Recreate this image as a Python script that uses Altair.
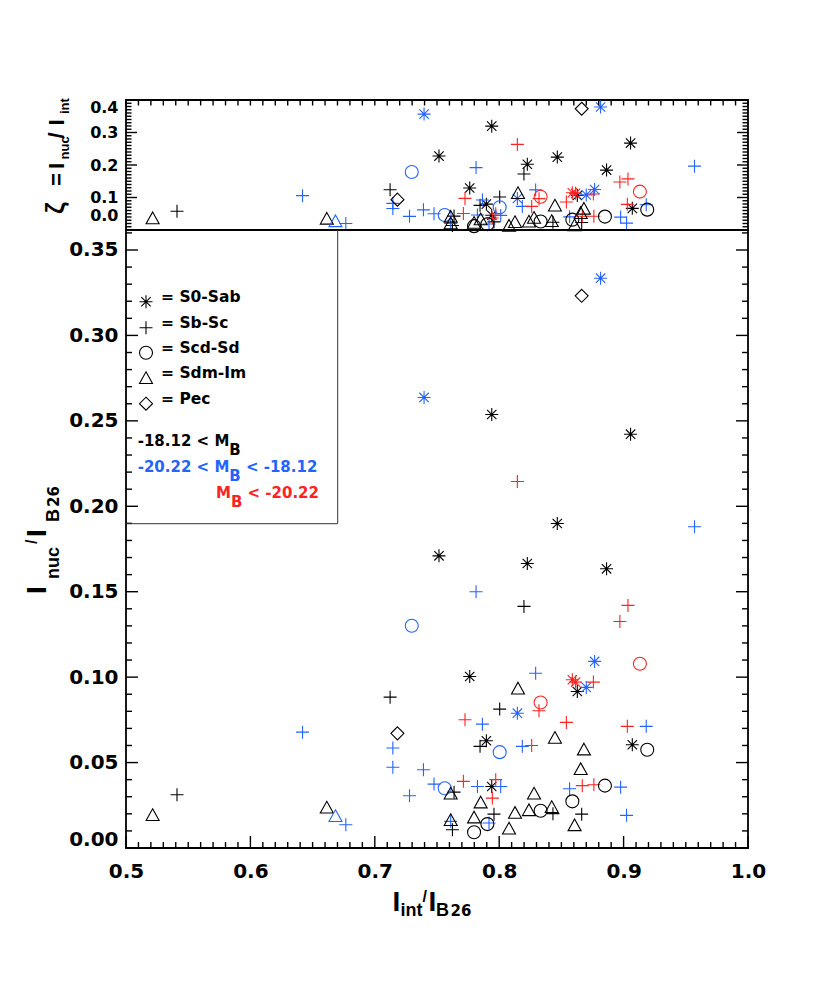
import altair as alt
import pandas as pd

# ---------------- data ----------------
# magnitude classes: faint = -18.12 < M_B, mid = -20.22 < M_B < -18.12, bright = M_B < -20.22
S0_Sab_x = [0.7940, 0.9056, 0.8467, 0.7516, 0.8226, 0.8863, 0.7763, 0.8628, 0.7897, 0.7940, 0.9070,
            0.8815, 0.7396, 0.8767, 0.8700, 0.8146,
            0.8588, 0.8614]
S0_Sab_y = [0.2537, 0.2422, 0.1899, 0.1710, 0.1665, 0.1634, 0.1004, 0.0916, 0.0628, 0.0360, 0.0604,
            0.3335, 0.2637, 0.1092, 0.0940, 0.0789,
            0.0985, 0.0971]
S0_Sab_m = ['faint'] * 11 + ['mid'] * 5 + ['bright'] * 2

Sb_Sc_x = [0.8199, 0.7123, 0.8004, 0.7846, 0.5410, 0.7637, 0.7958, 0.8432, 0.8663, 0.7624,
           0.9570, 0.7814, 0.8293, 0.7865, 0.8186, 0.6419, 0.7145, 0.7145, 0.7391, 0.7279,
           0.6767, 0.7476, 0.7825, 0.8012, 0.8566, 0.9182, 0.8976, 0.9024, 0.7610, 0.7918,
           0.8146, 0.9035, 0.8970, 0.8757, 0.8320, 0.7725, 0.8540, 0.8261, 0.9030, 0.7712,
           0.7972, 0.7945, 0.8668, 0.8761]
Sb_Sc_y = [0.1414, 0.0883, 0.0813, 0.0595, 0.0312, 0.0327, 0.0198, 0.0201, 0.0198, 0.0107,
           0.1880, 0.1500, 0.1023, 0.0725, 0.0595, 0.0678, 0.0585, 0.0473, 0.0458, 0.0306,
           0.0136, 0.0374, 0.0360, 0.0360, 0.0347, 0.0712, 0.0356, 0.0191, 0.0156, 0.0146,
           0.2145, 0.1420, 0.1326, 0.0971, 0.0803, 0.0751, 0.0735, 0.0600, 0.0712, 0.0390,
           0.0400, 0.0292, 0.0365, 0.0370]
Sb_Sc_m = ['faint'] * 10 + ['mid'] * 20 + ['bright'] * 14

Scd_Sd_x = [0.8850, 0.8588, 0.8333, 0.7905, 0.7798, 0.9190,
            0.7297, 0.8004, 0.7562,
            0.9131, 0.8333]
Scd_Sd_y = [0.0365, 0.0273, 0.0218, 0.0140, 0.0092, 0.0575,
            0.1301, 0.0561, 0.0350,
            0.1078, 0.0852]
Scd_Sd_m = ['faint'] * 6 + ['mid'] * 3 + ['bright'] * 2

Sdm_Im_x = [0.5214, 0.6614, 0.8151, 0.8448, 0.8681, 0.8655, 0.7610, 0.8280, 0.7851, 0.7798,
            0.7610, 0.8127, 0.8239, 0.8422, 0.8606, 0.8079,
            0.6684]
Sdm_Im_y = [0.0195, 0.0239, 0.0936, 0.0647, 0.0579, 0.0464, 0.0321, 0.0321, 0.0269, 0.0181,
            0.0166, 0.0208, 0.0224, 0.0242, 0.0136, 0.0116,
            0.0189]
Sdm_Im_m = ['faint'] * 16 + ['mid']

Pec_x = [0.8663, 0.7182]
Pec_y = [0.3232, 0.0671]
Pec_m = ['faint', 'faint']

TYPES = ['S0-Sab', 'Sb-Sc', 'Scd-Sd', 'Sdm-Im', 'Pec']
MAGS = ['faint', 'mid', 'bright']
COLORS = ['#000000', '#2563ff', '#ff2222']

rows = []
for t, xs, ys, ms in [('S0-Sab', S0_Sab_x, S0_Sab_y, S0_Sab_m),
                      ('Sb-Sc', Sb_Sc_x, Sb_Sc_y, Sb_Sc_m),
                      ('Scd-Sd', Scd_Sd_x, Scd_Sd_y, Scd_Sd_m),
                      ('Sdm-Im', Sdm_Im_x, Sdm_Im_y, Sdm_Im_m),
                      ('Pec', Pec_x, Pec_y, Pec_m)]:
    for x, y, m in zip(xs, ys, ms):
        rows.append({'x': x, 'y': y, 'type': t, 'mag': m})
df = pd.DataFrame(rows)

# ---------------- styling ----------------
AST = 'M-1,0L1,0M0,-1L0,1M-0.72,-0.72L0.72,0.72M-0.72,0.72L0.72,-0.72'
PLUS = 'M-1,0L1,0M0,-1L0,1'
TRI = 'M0,-0.9L1,0.9L-1,0.9Z'
DIAM = 'M0,-1L1,0L0,1L-1,0Z'
SHAPES = [AST, PLUS, 'circle', TRI, DIAM]

W, H_TOP, H_MAIN = 622, 130, 618
SYM = 169
LIB = 'Liberation Sans'
DJV = 'DejaVu Sans'

xscale = alt.Scale(domain=[0.5, 1.0], nice=False, zero=False)
ymain = alt.Scale(domain=[0, 0.3617], nice=False, zero=False)
ytop = alt.Scale(domain=[0, 0.4], nice=False, zero=False)

shape_enc = alt.Shape('type:N', scale=alt.Scale(domain=TYPES, range=SHAPES), legend=None)
color_enc = alt.Color('mag:N', scale=alt.Scale(domain=MAGS, range=COLORS), legend=None)

lab = dict(ticks=False, tickSize=0, domain=False, grid=False, labelFont=DJV,
           labelFontWeight='bold', labelColor='black', title=None,
           labelOverlap=False, labelFlush=False)

x_axis_main = alt.Axis(values=[0.5, 0.6, 0.7, 0.8, 0.9, 1.0], format='.1f',
                       labelPadding=13, labelFontSize=20, **lab)
y_axis_main = alt.Axis(values=[0.0, 0.05, 0.1, 0.15, 0.2, 0.25, 0.3, 0.35], format='.2f',
                       labelPadding=8, labelFontSize=20,
                       labelOffset={'condition': {'test': 'datum.value == 0', 'value': -9}, 'value': 0},
                       **lab)
y_axis_top = alt.Axis(values=[0.0, 0.1, 0.2, 0.3, 0.4], format='.1f',
                      labelPadding=8, labelFontSize=16,
                      labelOffset={'condition': [{'test': 'datum.value == 0', 'value': -15},
                                                 {'test': 'datum.value > 0.39', 'value': 7}],
                                   'value': 0},
                      **lab)

one = pd.DataFrame({'_': [0]})


def txt(s, x, y, size, font=LIB, color='black', angle=0, align='left'):
    return alt.Chart(one).mark_text(
        text=s, font=font, fontSize=size, fontWeight='bold', color=color,
        angle=angle, align=align, baseline='alphabetic'
    ).encode(x=alt.value(x), y=alt.value(y))


def yticks(vals, scale, axis, side, length):
    d = pd.DataFrame({'v': vals})
    x0, x1 = (0, length) if side == 'left' else (W, W - length)
    return alt.Chart(d).mark_rule(color='black', strokeWidth=1.4).encode(
        y=alt.Y('v:Q', scale=scale, axis=axis), x=alt.value(x0), x2=alt.value(x1))


def xticks(vals, axis, y0, length):
    d = pd.DataFrame({'v': vals})
    return alt.Chart(d).mark_rule(color='black', strokeWidth=1.4).encode(
        x=alt.X('v:Q', scale=xscale, axis=axis), y=alt.value(y0), y2=alt.value(y0 + length))


# tick positions
x_major = [0.5, 0.6, 0.7, 0.8, 0.9, 1.0]
x_minor = [round(0.5 + 0.01 * i, 2) for i in range(51) if i % 10]
x_all = [round(0.5 + 0.01 * i, 2) for i in range(51)]
ym_major = [0.0, 0.05, 0.1, 0.15, 0.2, 0.25, 0.3, 0.35]
ym_minor = [round(0.01 * i, 2) for i in range(37) if i % 5]
yt_major = [0.0, 0.1, 0.2, 0.3, 0.4]
yt_minor = [round(0.01 * i, 2) for i in range(41) if i % 10]

# ---------------- top panel ----------------
pts_top = alt.Chart(df).transform_calculate(zeta='datum.y / datum.x').mark_point(
    filled=False, size=SYM, strokeWidth=1.1, opacity=1
).encode(
    x=alt.X('x:Q', scale=xscale, axis=None),
    y=alt.Y('zeta:Q', scale=ytop, axis=y_axis_top),
    shape=shape_enc, color=color_enc,
)

top_layers = [
    pts_top,
    yticks(yt_major, ytop, y_axis_top, 'left', 11), yticks(yt_minor, ytop, y_axis_top, 'left', 5.5),
    yticks(yt_major, ytop, y_axis_top, 'right', 11), yticks(yt_minor, ytop, y_axis_top, 'right', 5.5),
    xticks(x_all, None, 0, 5.5),
    # y title: zeta = I_nuc / I_int (rotated)
    txt('ζ', -61.7, 114, 26, angle=270),
    txt('=', -61.7, 86, 22, angle=270),
    txt('I', -61.7, 69, 22, angle=270),
    txt('nuc', -57, 59.5, 13, angle=270),
    txt('/', -61.7, 38.5, 22, angle=270),
    txt('I', -61.7, 25.5, 22, angle=270),
    txt('int', -57, 14, 13, angle=270),
]
top = alt.layer(*top_layers).properties(width=W, height=H_TOP)

# ---------------- main panel ----------------
pts_main = alt.Chart(df).mark_point(
    filled=False, size=SYM, strokeWidth=1.1, opacity=1
).encode(
    x=alt.X('x:Q', scale=xscale, axis=x_axis_main),
    y=alt.Y('y:Q', scale=ymain, axis=y_axis_main),
    shape=shape_enc, color=color_enc,
)

box_right = alt.Chart(one).mark_rule(color='#333333', strokeWidth=1).encode(
    x=alt.value(211.7), y=alt.value(0), y2=alt.value(293.7))
box_bottom = alt.Chart(one).mark_rule(color='#333333', strokeWidth=1).encode(
    x=alt.value(0), x2=alt.value(211.7), y=alt.value(293.7))

legend_rows = [('= S0-Sab', AST, 71.7), ('= Sb-Sc', PLUS, 97.7), ('= Scd-Sd', 'circle', 122.7),
               ('= Sdm-Im', TRI, 147.7), ('= Pec', DIAM, 173.7)]
legend_layers = []
for label, shp, yy in legend_rows:
    legend_layers.append(
        alt.Chart(one).mark_point(filled=False, size=SYM, strokeWidth=1.1, color='black', opacity=1)
        .encode(x=alt.value(20), y=alt.value(yy), shape=alt.value(shp)))
    legend_layers.append(txt(label, 35, yy, 15.5, font=DJV))

BLUE, RED = COLORS[1], COLORS[2]
mag_layers = [
    txt('-18.12 < M', 11.7, 216, 15, font=DJV),
    txt('B', 103.3, 225, 15, font=DJV),
    txt('-20.22 < M', 11.7, 241.7, 15, font=DJV, color=BLUE),
    txt('B', 103.3, 251, 15, font=DJV, color=BLUE),
    txt('< -18.12', 119.9, 241.7, 15, font=DJV, color=BLUE),
    txt('M', 90, 267.7, 15, font=DJV, color=RED),
    txt('B', 104.9, 277, 15, font=DJV, color=RED),
    txt('< -20.22', 121.5, 267.7, 15, font=DJV, color=RED),
]

title_layers = [
    # x title: I_int / I_B26
    txt('I', 266.5, 680.7, 28),
    txt('int', 274.5, 685.7, 18),
    txt('/', 296.5, 672, 16),
    txt('I', 302.5, 680.7, 28),
    txt('B', 310, 685.7, 18),
    txt('26', 324.5, 685.7, 15, font=DJV),
    # y title: I_nuc / I_B26 (rotated)
    txt('I', -80, 364, 28, angle=270),
    txt('nuc', -67, 349, 18, angle=270),
    txt('/', -88.7, 314, 16, angle=270),
    txt('I', -80, 307, 28, angle=270),
    txt('B', -67, 292, 18, angle=270),
    txt('26', -67, 277, 15, font=DJV, angle=270),
]

main_layers = [
    pts_main,
    yticks(ym_major, ymain, y_axis_main, 'left', 12), yticks(ym_minor, ymain, y_axis_main, 'left', 6),
    yticks(ym_major, ymain, y_axis_main, 'right', 12), yticks(ym_minor, ymain, y_axis_main, 'right', 6),
    xticks(x_major, x_axis_main, H_MAIN - 12, 12), xticks(x_minor, x_axis_main, H_MAIN - 6, 6),
    box_right, box_bottom,
] + legend_layers + mag_layers + title_layers

main = alt.layer(*main_layers).properties(width=W, height=H_MAIN)

chart = alt.vconcat(top, main, spacing=0, bounds='flush').properties(
    padding={'left': 15, 'top': 89, 'right': 10, 'bottom': 10},
    background='white',
).configure_view(stroke='black', strokeWidth=1.8)

chart.save('out.html', embed_options={'renderer': 'svg', 'actions': False})
